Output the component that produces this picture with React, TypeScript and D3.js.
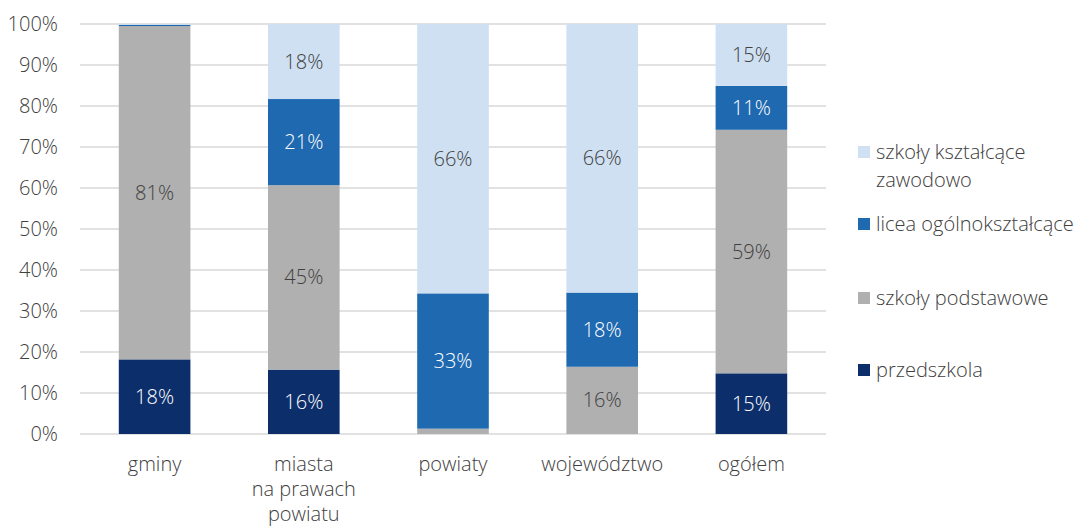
import React from 'react'
import * as d3 from 'd3'

const categories = ['gminy', 'miasta\nna prawach\npowiatu', 'powiaty', 'województwo', 'ogółem']
const przedszkola = [18.2, 15.7, 0, 0, 14.8]
const podstawowe = [81.3, 45.0, 1.3, 16.4, 59.4]
const licea = [0.3, 21.0, 33.0, 18.1, 10.7]
const zawodowo = [0.2, 18.3, 65.7, 65.5, 15.1]
const yTicks = [0, 10, 20, 30, 40, 50, 60, 70, 80, 90, 100]

const colors = ['#0c2f6c', '#b0b0b0', '#1f69b0', '#cfe0f2']
const labelColors = ['#ffffff', '#404040', '#ffffff', '#404040']

const W = 1076
const H = 527
const FONT = '"Open Sans", sans-serif'
const FS = 20
const FW = 300

export default function App() {
  const ref = React.useRef<SVGSVGElement>(null)

  React.useEffect(() => {
    const svg = d3.select(ref.current!)
    svg.selectAll('*').remove()

    const margin = { left: 80, right: 250, top: 24, bottom: 93 }
    const x = d3.scaleBand<string>().domain(categories).range([margin.left, W - margin.right]).paddingInner(0.52).paddingOuter(0.26)
    const y = d3.scaleLinear().domain([0, 100]).range([H - margin.bottom, margin.top])

    // gridlines
    svg.append('g').selectAll('line').data(yTicks).join('line')
      .attr('x1', margin.left).attr('x2', W - margin.right)
      .attr('y1', d => y(d)).attr('y2', d => y(d))
      .attr('stroke', '#d9d9d9').attr('stroke-width', 1.3)

    svg.append('g').selectAll('text').data(yTicks).join('text')
      .attr('x', 58).attr('y', d => y(d)).attr('dy', '0.35em')
      .attr('text-anchor', 'end').attr('font-family', FONT).attr('font-size', FS).attr('font-weight', FW)
      .attr('fill', '#404040').text(d => `${d}%`)

    const table = categories.map((c, i) => ({
      cat: c,
      s0: przedszkola[i], s1: podstawowe[i], s2: licea[i], s3: zawodowo[i],
    }))
    const stacked = d3.stack<any>().keys(['s0', 's1', 's2', 's3'])(table)

    stacked.forEach((layer, si) => {
      const g = svg.append('g')
      g.selectAll('rect').data(layer).join('rect')
        .attr('x', d => x(d.data.cat)!)
        .attr('width', x.bandwidth())
        .attr('y', d => y(d[1]))
        .attr('height', d => y(d[0]) - y(d[1]))
        .attr('fill', colors[si])
      g.selectAll('text').data(layer.filter(d => d[1] - d[0] >= 5)).join('text')
        .attr('x', d => x(d.data.cat)! + x.bandwidth() / 2)
        .attr('y', d => y((d[0] + d[1]) / 2)).attr('dy', '0.35em')
        .attr('text-anchor', 'middle').attr('font-family', FONT).attr('font-size', FS).attr('font-weight', FW)
        .attr('fill', labelColors[si])
        .text(d => `${Math.round(d[1] - d[0])}%`)
    })

    // category labels
    const cg = svg.append('g')
    categories.forEach(c => {
      const t = cg.append('text').attr('text-anchor', 'middle').attr('font-family', FONT)
        .attr('font-size', FS).attr('font-weight', FW).attr('fill', '#404040')
      c.split('\n').forEach((ln, i) => {
        t.append('tspan').attr('x', x(c)! + x.bandwidth() / 2).attr('y', 471 + i * 25).text(ln)
      })
    })

    // legend
    const legend = [
      { i: 3, lines: ['szkoły kształcące', 'zawodowo'], y: 152 },
      { i: 2, lines: ['licea ogólnokształcące'], y: 224 },
      { i: 1, lines: ['szkoły podstawowe'], y: 298 },
      { i: 0, lines: ['przedszkola'], y: 370 },
    ]
    const lg = svg.append('g')
    legend.forEach(l => {
      lg.append('rect').attr('x', 858).attr('y', l.y - 6).attr('width', 12).attr('height', 12).attr('fill', colors[l.i])
      const t = lg.append('text').attr('font-family', FONT).attr('font-size', FS).attr('font-weight', FW).attr('fill', '#404040')
      l.lines.forEach((ln, k) => {
        t.append('tspan').attr('x', 876).attr('y', l.y + k * 28).attr('dy', '0.35em').text(ln)
      })
    })
  }, [])

  return (
    <div style={{ position: 'absolute', left: 0, top: 0 }}>
      <svg ref={ref} width={W} height={H} style={{ display: 'block', background: '#fff' }} />
    </div>
  )
}
